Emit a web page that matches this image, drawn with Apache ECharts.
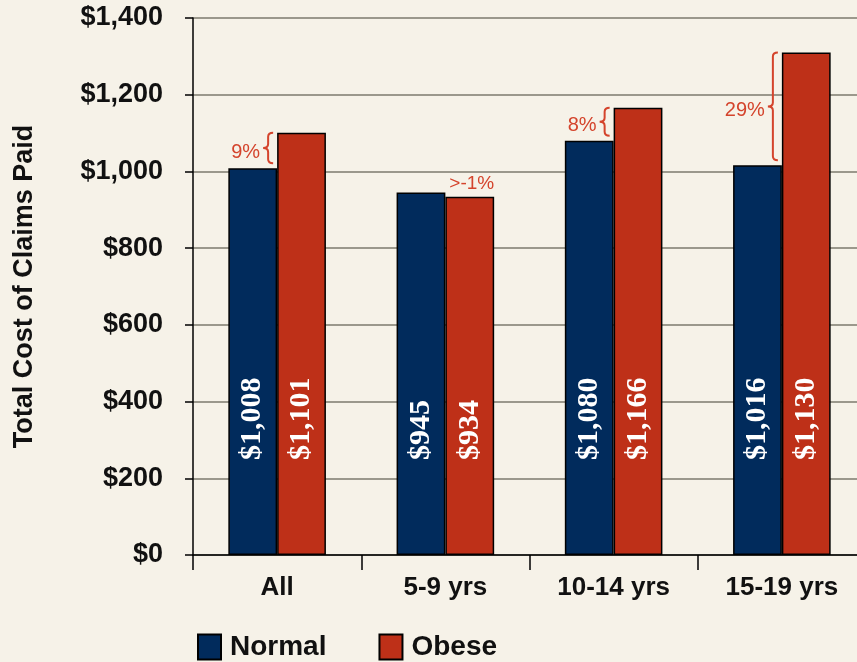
<!DOCTYPE html>
<html><head><meta charset="utf-8">
<script src="https://cdn.jsdelivr.net/npm/echarts@6/dist/echarts.min.js"></script>
<style>html,body{margin:0;padding:0;background:#F6F2E8}#c{width:857px;height:662px}</style>
</head><body><div id="c"></div>
<script>
var categories = ['All', '5-9 yrs', '10-14 yrs', '15-19 yrs'];
var normalValues = [1008, 945, 1080, 1016];
var obeseValues = [1101, 934, 1166, 1310];
var normalLabels = ['$1,008', '$945', '$1,080', '$1,016'];
var obeseLabels = ['$1,101', '$934', '$1,166', '$1,130'];
var pctLabels = ['9%', '>-1%', '8%', '29%'];
var yTicks = {min: 0, max: 1400, interval: 200};

var FONT = '"Liberation Sans", Arial, sans-serif';
var SERIF = '"Liberation Serif", "DejaVu Serif", serif';
var annoColor = '#D4442C';

var annoData = categories.map(function (c, i) { return [i, normalValues[i], obeseValues[i], pctLabels[i]]; });

var chart = echarts.init(document.getElementById('c'));
chart.setOption({
  backgroundColor: '#F6F2E8',
  animation: false,
  grid: {left: 193, width: 673, top: 18, height: 537, containLabel: false, outerBoundsMode: 'none'},
  legend: {
    left: 192, top: 628, itemWidth: 23, itemHeight: 25, itemGap: 52,
    icon: 'rect',
    textStyle: {fontFamily: FONT, fontWeight: 'bold', fontSize: 28, color: '#111', padding: [0, 0, 0, 4]},
    itemStyle: {borderColor: '#000', borderWidth: 2},
    data: ['Normal', 'Obese']
  },
  xAxis: {
    type: 'category', data: categories,
    axisLine: {lineStyle: {color: '#000', width: 1.5}},
    axisTick: {show: true, length: 15, lineStyle: {color: '#000', width: 1.5}, alignWithLabel: false, interval: 0},
    axisLabel: {fontFamily: FONT, fontWeight: 'bold', fontSize: 26, color: '#111', margin: 20, interval: 0}
  },
  yAxis: {
    type: 'value', min: yTicks.min, max: yTicks.max, interval: yTicks.interval,
    name: 'Total Cost of Claims Paid', nameLocation: 'middle', nameGap: 155,
    nameTextStyle: {fontFamily: FONT, fontWeight: 'bold', fontSize: 27, color: '#111'},
    axisLine: {show: true, lineStyle: {color: '#000', width: 1.5}},
    axisTick: {show: true, length: 8, lineStyle: {color: '#000', width: 1.5}},
    splitLine: {show: true, lineStyle: {color: '#9B988C', width: 2}},
    axisLabel: {
      fontFamily: FONT, fontWeight: 'bold', fontSize: 27, color: '#111', margin: 30,
      formatter: function (v) { return '$' + v.toLocaleString('en-US'); }
    }
  },
  series: [
    {
      name: 'Normal', type: 'bar', data: normalValues, barGap: '0%', barCategoryGap: '42%',
      itemStyle: {color: '#012B5C', borderColor: '#000', borderWidth: 1.5},
      label: {
        show: true, position: 'insideBottom', distance: 95, rotate: 90, align: 'left', verticalAlign: 'middle',
        fontFamily: SERIF, fontWeight: 'bold', fontSize: 30, color: '#fff',
        formatter: function (p) { return normalLabels[p.dataIndex]; }
      }
    },
    {
      name: 'Obese', type: 'bar', data: obeseValues,
      itemStyle: {color: '#BE3018', borderColor: '#000', borderWidth: 1.5},
      label: {
        show: true, position: 'insideBottom', distance: 95, rotate: 90, align: 'left', verticalAlign: 'middle',
        fontFamily: SERIF, fontWeight: 'bold', fontSize: 30, color: '#fff',
        formatter: function (p) { return obeseLabels[p.dataIndex]; }
      }
    },
    {
      type: 'custom', data: annoData, encode: {x: 0, y: [1, 2]}, z: 10, silent: true,
      renderItem: function (params, api) {
        var idx = api.value(0), nv = api.value(1), ov = api.value(2);
        var txt = pctLabels[idx];
        var pN = api.coord([idx, nv]), pO = api.coord([idx, ov]);
        var bw = api.size([1, 0])[0] * 0.29;
        var cx = pN[0];
        if (ov > nv) {
          var x = cx - 5, y1 = pO[1], y2 = pN[1] - 5, ym = (y1 + y2) / 2, h = y2 - y1;
          var r = Math.min(4, h * 0.15);
          var path = 'M' + (x + 1) + ',' + y1 +
            ' Q' + (x - 4) + ',' + y1 + ' ' + (x - 4) + ',' + (y1 + r) +
            ' L' + (x - 4) + ',' + (ym - r) +
            ' Q' + (x - 4) + ',' + ym + ' ' + (x - 9) + ',' + ym +
            ' Q' + (x - 4) + ',' + ym + ' ' + (x - 4) + ',' + (ym + r) +
            ' L' + (x - 4) + ',' + (y2 - r) +
            ' Q' + (x - 4) + ',' + y2 + ' ' + (x + 1) + ',' + y2;
          return {type: 'group', children: [
            {type: 'path', shape: {pathData: path}, style: {fill: 'none', stroke: annoColor, lineWidth: 2}},
            {type: 'text', x: x - 12, y: ym + 4, style: {text: txt, fill: annoColor, font: '20px ' + FONT, align: 'right', verticalAlign: 'middle'}}
          ]};
        }
        return {type: 'text', x: cx + bw / 2 + 2, y: pO[1] - 3,
          style: {text: txt, fill: annoColor, font: '19px ' + FONT, align: 'center', verticalAlign: 'bottom'}};
      }
    }
  ]
});
</script></body></html>
